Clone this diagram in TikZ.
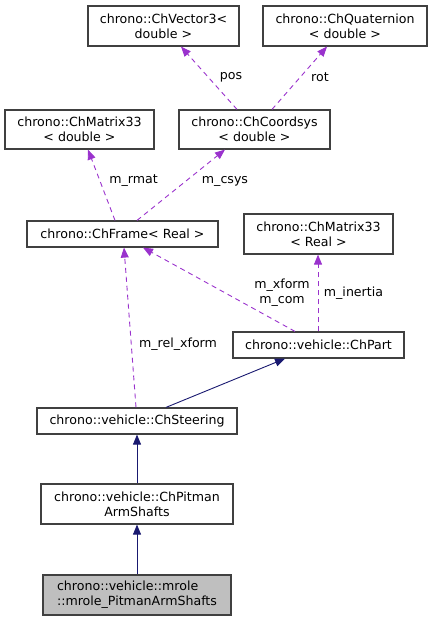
\documentclass[tikz,border=0pt]{standalone}
\usepackage{fontspec}
\setmainfont{DejaVu Sans}
\usetikzlibrary{arrows.meta}
\definecolor{edgepurple}{HTML}{9A32CD}
\definecolor{edgenavy}{HTML}{191970}
\definecolor{boxline}{HTML}{404040}
\begin{document}
\begin{tikzpicture}[x=1pt,y=-1pt,
  every node/.style={font=\fontsize{12.6}{15}\selectfont, inner sep=0pt},
  cls/.style={draw=boxline, line width=1.2pt, fill=white, align=center},
  member/.style={draw=edgepurple, dashed, dash pattern=on 5pt off 4pt, line width=0.9pt, -{Triangle[length=10pt,width=8pt]}},
  inherit/.style={draw=edgenavy, line width=0.9pt, -{Triangle[length=10pt,width=8pt]}},
  lbl/.style={align=center}]
\useasboundingbox (0,0) rectangle (432,621);
\node[cls, minimum width=151pt, minimum height=40pt] (vec) at (163.5,26) {chrono::ChVector3<\\double >};
\node[cls, minimum width=164pt, minimum height=40pt] (quat) at (345,26) {chrono::ChQuaternion\\< double >};
\node[cls, minimum width=149pt, minimum height=39pt] (m33d) at (79.5,129.5) {chrono::ChMatrix33\\< double >};
\node[cls, minimum width=151pt, minimum height=39pt] (csys) at (254.5,129.5) {chrono::ChCoordsys\\< double >};
\node[cls, minimum width=191pt, minimum height=26pt] (frame) at (122.5,234) {chrono::ChFrame< Real >};
\node[cls, minimum width=149pt, minimum height=40pt] (m33r) at (318.5,234) {chrono::ChMatrix33\\< Real >};
\node[cls, minimum width=171pt, minimum height=26pt] (part) at (318.5,345) {chrono::vehicle::ChPart};
\node[cls, minimum width=200pt, minimum height=26pt] (steer) at (137,421) {chrono::vehicle::ChSteering};
\node[cls, minimum width=192pt, minimum height=40pt] (pitman) at (137,504) {chrono::vehicle::ChPitman\\ArmShafts};
\node[cls, fill=black!25, align=left, minimum width=188pt, minimum height=40pt] (mrole) at (137,595) {chrono::vehicle::mrole\\::mrole\_PitmanArmShafts};

\draw[member] ([xshift=-17.5pt]csys.north) -- ([xshift=17.5pt]vec.south);
\draw[member] ([xshift=17.5pt]csys.north) -- ([xshift=-18pt]quat.south);
\draw[member] ([xshift=-7.5pt]frame.north) -- ([xshift=8.5pt]m33d.south);
\draw[member] ([xshift=14.5pt]frame.north) -- ([xshift=-29.5pt]csys.south);
\draw[member] ([xshift=-23.5pt]part.north) -- ([xshift=20.5pt]frame.south);
\draw[member] ([xshift=-0.5pt]part.north) -- ([xshift=-0.5pt]m33r.south);
\draw[member] ([xshift=-1pt]steer.north) -- ([xshift=1.5pt]frame.south);
\draw[inherit] ([xshift=29pt]steer.north) -- ([xshift=-33.5pt]part.south);
\draw[inherit] (pitman.north) -- (steer.south);
\draw[inherit] (mrole.north) -- (pitman.south);

\node[lbl] (lpos) at (231,77) {pos};
\node[lbl] (lrot) at (320,77) {rot};
\node[lbl] (lrmat) at (133.5,181) {m\_rmat};
\node[lbl] (lcsys) at (225,181) {m\_csys};
\node[lbl] (lxform) at (282,292.5) {m\_xform\\m\_com};
\node[lbl] (linertia) at (353.5,293) {m\_inertia};
\node[lbl] (lrel) at (178,344) {m\_rel\_xform};
\end{tikzpicture}
\end{document}
